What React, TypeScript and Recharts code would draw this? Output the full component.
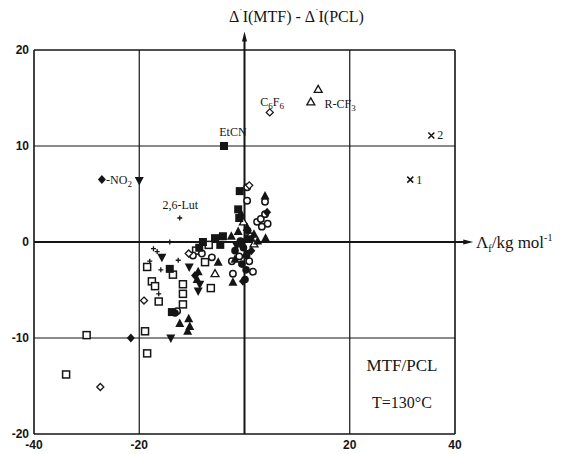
import React from 'react'
import {
  ScatterChart, Scatter, XAxis, YAxis, ReferenceLine, ReferenceDot,
} from 'recharts'

type Pt = [number, number]

const xTicks = [-40, -20, 20, 40]
const yTicks = [-20, -10, 0, 10, 20]
const xGrid = [-20, 20]
const yGrid = [-10, 10]

const openSquare: Pt[] = [
  [-33.9, -13.8], [-30, -9.7], [-18.9, -9.3], [-18.5, -11.6], [-18.5, -2.6],
  [-17.6, -4.1], [-17.0, -4.6], [-16.3, -6.2], [-13.6, -3.4], [-11.7, -4.4],
  [-11.7, -5.4], [-11.7, -6.5], [-7.5, -2.1], [-6.4, -4.8], [-6.8, -0.3],
  [-9.2, -0.9],
]
const filledSquare: Pt[] = [
  [-3.9, 10.0], [-0.9, 5.3], [-1.2, 3.4], [-4.1, 0.6], [-4.6, -0.3],
  [-7.9, 0.0], [-14.2, -2.8], [-13.8, -7.3], [-1.0, 2.5], [-5.6, 0.4],
  [-8.6, -0.6],
]
const openCircle: Pt[] = [
  [0.5, 5.7], [0.5, 4.3], [3.9, 4.2], [2.4, 2.1], [3.1, 2.4], [3.9, 2.9],
  [3.3, 1.6], [4.4, 1.9], [-9.8, -1.4], [-8.1, -1.2], [-2.4, -2.0],
  [-2.2, -3.3], [1.6, -3.1], [1.2, 0.6], [-6.2, -1.6], [-1.0, -1.5],
  [0.9, -2.0], [-12.8, -7.2],
]
const filledCircle: Pt[] = [
  [0.1, -3.9], [-0.2, -0.6], [0.4, -1.4], [-0.8, 0.1], [1.0, 0.3],
  [-0.5, -2.3], [0.6, 1.2], [-1.8, -0.9], [0.3, -2.9], [-13.2, -7.4],
]
const openTriangle: Pt[] = [
  [14.0, 15.9], [12.6, 14.6], [-5.6, -3.3], [-0.2, 2.1], [1.8, -0.2],
]
const filledTriangle: Pt[] = [
  [3.9, 4.8], [-1.2, 1.1], [-5.0, -2.1], [-8.8, -3.1], [-2.2, -4.2],
  [-12.3, -8.5], [-10.4, -8.8], [-10.8, -9.3], [-0.7, 3.0], [4.0, 0.4],
  [-2.5, 0.6], [0.3, 0.4], [2.5, 0.1], [-1.8, -1.8], [-10.6, -8.0],
  [-9.0, -3.9], [0.5, 1.5], [1.8, 0.8], [-0.4, -0.2],
]
const filledInvTriangle: Pt[] = [
  [-20, 6.4], [-14, -10], [-15.7, -1.6], [-8.8, -5.1], [-8.5, -4.4],
  [-1.5, -0.4], [-10.5, -2.6], [0.7, -1.2],
]
const openDiamond: Pt[] = [
  [4.8, 13.5], [-27.4, -15.1], [-19.1, -6.1], [0.9, 5.9], [-10.6, -1.2],
]
const filledDiamond: Pt[] = [
  [-27.1, 6.5], [-21.6, -10], [4.3, 3.1], [-9.4, -3.5], [1.3, -0.9], [-0.3, -4.1],
]
const plus: Pt[] = [
  [-12.3, 2.5], [-16.3, -5.4], [-16.6, -1.0], [-15.9, -2.9], [-12.6, -1.9],
  [-14.2, 0.0], [-18.0, -2.0], [-17.3, -0.7],
]
const cross: Pt[] = [[35.5, 11.1], [31.5, 6.5]]

const ink = '#151515'

const series: { kind: string; pts: Pt[] }[] = [
  { kind: 'openSquare', pts: openSquare },
  { kind: 'openCircle', pts: openCircle },
  { kind: 'openTriangle', pts: openTriangle },
  { kind: 'openDiamond', pts: openDiamond },
  { kind: 'plus', pts: plus },
  { kind: 'cross', pts: cross },
  { kind: 'filledSquare', pts: filledSquare },
  { kind: 'filledCircle', pts: filledCircle },
  { kind: 'filledTriangle', pts: filledTriangle },
  { kind: 'filledInvTriangle', pts: filledInvTriangle },
  { kind: 'filledDiamond', pts: filledDiamond },
]

function drawMarker(kind: string, cx: number, cy: number) {
  switch (kind) {
    case 'openSquare':
      return <rect x={cx - 3.5} y={cy - 3.5} width={7} height={7} fill="#fff" stroke={ink} strokeWidth={1.5} />
    case 'filledSquare':
      return <rect x={cx - 4} y={cy - 4} width={8} height={8} fill={ink} />
    case 'openCircle':
      return <circle cx={cx} cy={cy} r={3.2} fill="#fff" stroke={ink} strokeWidth={1.5} />
    case 'filledCircle':
      return <circle cx={cx} cy={cy} r={3.8} fill={ink} />
    case 'openTriangle':
      return <path d={`M${cx},${cy - 4}L${cx + 4},${cy + 3}L${cx - 4},${cy + 3}Z`} fill="#fff" stroke={ink} strokeWidth={1.3} />
    case 'filledTriangle':
      return <path d={`M${cx},${cy - 5}L${cx + 4.5},${cy + 3.5}L${cx - 4.5},${cy + 3.5}Z`} fill={ink} />
    case 'filledInvTriangle':
      return <path d={`M${cx - 4.5},${cy - 3.5}L${cx + 4.5},${cy - 3.5}L${cx},${cy + 5}Z`} fill={ink} />
    case 'openDiamond':
      return <path d={`M${cx},${cy - 3.5}L${cx + 3.5},${cy}L${cx},${cy + 3.5}L${cx - 3.5},${cy}Z`} fill="#fff" stroke={ink} strokeWidth={1.3} />
    case 'filledDiamond':
      return <path d={`M${cx},${cy - 4.5}L${cx + 4},${cy}L${cx},${cy + 4.5}L${cx - 4},${cy}Z`} fill={ink} />
    case 'plus':
      return <path d={`M${cx - 2.5},${cy}H${cx + 2.5}M${cx},${cy - 2.5}V${cy + 2.5}`} stroke={ink} strokeWidth={1.3} />
    default:
      return <path d={`M${cx - 3},${cy - 3}L${cx + 3},${cy + 3}M${cx + 3},${cy - 3}L${cx - 3},${cy + 3}`} stroke={ink} strokeWidth={1.5} />
  }
}

const serif = '"Liberation Serif", "Times New Roman", serif'
const sans = '"Liberation Sans", Arial, sans-serif'

// point annotations, anchored in data units
const notes = [
  { x: 35.5, y: 11.1, dx: 6, text: '2' },
  { x: 31.5, y: 6.5, dx: 6, text: '1' },
  { x: 15.2, y: 14.4, dx: 0, text: 'R-CF', sub: '3' },
  { x: 3.0, y: 14.6, dx: 0, text: 'C', sub: '6', text2: 'F', sub2: '6' },
  { x: -4.8, y: 11.5, dx: 0, text: 'EtCN' },
  { x: -26.3, y: 6.5, dx: 0, text: '-NO', sub: '2' },
  { x: -15.6, y: 3.9, dx: 0, text: '2,6-Lut' },
]

function Note(p: any, n: any) {
  return (
    <text x={p.cx + n.dx} y={p.cy + 4} fontFamily={serif} fontSize={12} fill={ink}>
      {n.text}
      {n.sub && <tspan fontSize={9} dy={3}>{n.sub}</tspan>}
      {n.text2 && <tspan fontSize={12} dy={-3}>{n.text2}</tspan>}
      {n.sub2 && <tspan fontSize={9} dy={3}>{n.sub2}</tspan>}
    </text>
  )
}

export default function App() {
  return (
    <div style={{ position: 'absolute', left: 0, top: 0, width: 561, height: 454, background: '#fff' }}>
      <ScatterChart width={561} height={454} margin={{ top: 50, right: 106, bottom: 0, left: 0 }}>
        <XAxis
          type="number" dataKey="x" domain={[-40, 40]} ticks={xTicks} height={20}
          axisLine={{ stroke: ink, strokeWidth: 1.6 }} tickLine={false} tickSize={0} tickMargin={6}
          tick={{ fontSize: 12, fontWeight: 700, fill: ink, fontFamily: sans }}
        />
        <YAxis
          type="number" dataKey="y" domain={[-20, 20]} ticks={yTicks} width={34}
          axisLine={{ stroke: ink, strokeWidth: 1.6 }} tickLine={false} tickSize={0} tickMargin={5}
          tick={{ fontSize: 12, fontWeight: 700, fill: ink, fontFamily: sans }}
        />
        <ReferenceLine y={20} stroke={ink} strokeWidth={1.6} />
        <ReferenceLine x={40} stroke={ink} strokeWidth={1.6} />
        {xGrid.map(v => <ReferenceLine key={'gx' + v} x={v} stroke={ink} strokeWidth={1.2} />)}
        {yGrid.map(v => <ReferenceLine key={'gy' + v} y={v} stroke={ink} strokeWidth={1.2} />)}
        <ReferenceLine segment={[{ x: 0, y: -20 }, { x: 0, y: 21.2 }]} ifOverflow="visible" stroke={ink} strokeWidth={2} />
        <ReferenceLine segment={[{ x: -40, y: 0 }, { x: 42.5, y: 0 }]} ifOverflow="visible" stroke={ink} strokeWidth={2} />
        <ReferenceDot
          x={0} y={21.5} ifOverflow="visible"
          shape={(p: any) => <path d={`M${p.cx},${p.cy - 4}L${p.cx + 2.5},${p.cy + 6}L${p.cx - 2.5},${p.cy + 6}Z`} fill={ink} />}
        />
        <ReferenceDot
          x={42.9} y={0} ifOverflow="visible"
          shape={(p: any) => <path d={`M${p.cx + 3},${p.cy}L${p.cx - 7},${p.cy - 2.5}L${p.cx - 7},${p.cy + 2.5}Z`} fill={ink} />}
        />
        {series.map(s => (
          <Scatter
            key={s.kind}
            data={s.pts.map(([x, y]) => ({ x, y }))}
            isAnimationActive={false}
            shape={(p: any) => drawMarker(s.kind, p.cx, p.cy)}
          />
        ))}
        {notes.map((n, i) => (
          <ReferenceDot key={'n' + i} x={n.x} y={n.y} ifOverflow="visible" shape={(p: any) => Note(p, n)} />
        ))}
      </ScatterChart>
      <div style={{ position: 'absolute', left: 229, top: 7, fontFamily: serif, fontSize: 16, color: ink, whiteSpace: 'nowrap' }}>
        Δ<sup style={{ fontSize: 10 }}>˙</sup>I(MTF) - Δ<sup style={{ fontSize: 10 }}>˙</sup>I(PCL)
      </div>
      <div style={{ position: 'absolute', left: 476, top: 232, fontFamily: serif, fontSize: 17, color: ink, whiteSpace: 'nowrap' }}>
        Λ<sub style={{ fontSize: 10 }}>f</sub>/kg mol<sup style={{ fontSize: 10 }}>-1</sup>
      </div>
      <div style={{ position: 'absolute', left: 364, top: 356, width: 76, textAlign: 'center', fontFamily: serif, fontSize: 17, color: ink }}>
        MTF/PCL
      </div>
      <div style={{ position: 'absolute', left: 364, top: 394, width: 76, textAlign: 'center', fontFamily: serif, fontSize: 16, color: ink }}>
        T=130°C
      </div>
    </div>
  )
}
